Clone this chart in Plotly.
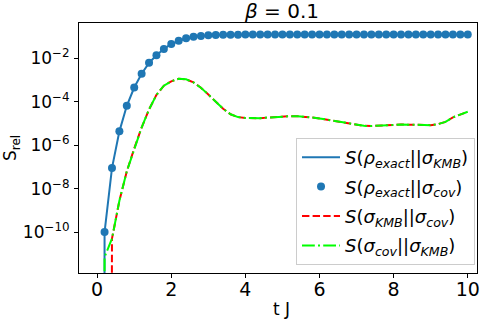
import numpy as np
import plotly.graph_objects as go

# ---- data ----
t = [round(0.2 * i, 1) for i in range(51)]

# S(rho_exact || sigma_KMB)  (line) and S(rho_exact || sigma_cov) (markers)
s_exact = [0.0, 1.0e-10, 8.9e-8, 4.4e-6, 6.6e-5, 4.6e-4, 2.0e-3, 6.3e-3, 1.41e-2, 2.75e-2,
           4.7e-2, 6.6e-2, 8.5e-2, 0.100, 0.110, 0.117, 0.121, 0.124, 0.125, 0.126,
           0.127, 0.127, 0.128, 0.128, 0.128, 0.128, 0.128, 0.128, 0.128, 0.128,
           0.128, 0.128, 0.128, 0.128, 0.128, 0.128, 0.128, 0.128, 0.128, 0.128,
           0.128, 0.128, 0.128, 0.128, 0.128, 0.128, 0.128, 0.128, 0.128, 0.128,
           0.128]

# S(sigma_cov || sigma_KMB)
s_cov_kmb = [0.0, 7.1e-12, 5.0e-11, 2.8e-9, 6.3e-8, 7.1e-7, 6.6e-6, 4.5e-5, 2.1e-4, 5.6e-4,
             8.9e-4, 1.17e-3, 1.10e-3, 7.9e-4, 4.5e-4, 2.2e-4, 1.0e-4, 4.8e-5, 2.7e-5, 2.0e-5,
             1.8e-5, 1.74e-5, 1.78e-5, 1.9e-5, 2.04e-5, 2.14e-5, 2.19e-5, 2.19e-5, 2.09e-5, 1.9e-5,
             1.74e-5, 1.51e-5, 1.35e-5, 1.15e-5, 1.0e-5, 8.7e-6, 7.9e-6, 7.8e-6, 7.9e-6, 8.3e-6,
             8.7e-6, 9.1e-6, 9.1e-6, 8.9e-6, 8.5e-6, 8.5e-6, 9.5e-6, 1.2e-5, 1.95e-5, 2.7e-5,
             3.5e-5]

# S(sigma_KMB || sigma_cov)
s_kmb_cov = [0.0, 0.0] + s_cov_kmb[2:]

ytick_vals = [1e-10, 1e-8, 1e-6, 1e-4, 1e-2]
ytick_text = ["10<sup>−10</sup>", "10<sup>−8</sup>", "10<sup>−6</sup>", "10<sup>−4</sup>", "10<sup>−2</sup>"]
xtick_vals = [0, 2, 4, 6, 8, 10]


def clip(v):
    # zeros on a log axis are drawn far below the axis (like matplotlib's clip)
    return [x if x > 0 else 1e-300 for x in v]


FONT = "DejaVu Sans"
BLUE = "#1f77b4"

fig = go.Figure()
fig.add_trace(go.Scatter(x=t, y=clip(s_exact), mode="lines", legendgroup="a",
                         line=dict(color=BLUE, width=2),
                         name="<i>S</i>(<i>ρ<sub>exact</sub></i>||<i>σ<sub>KMB</sub></i>)"))
fig.add_trace(go.Scatter(x=t[1:], y=s_exact[1:], mode="markers", legendgroup="b",
                         marker=dict(color=BLUE, size=8),
                         name="<i>S</i>(<i>ρ<sub>exact</sub></i>||<i>σ<sub>cov</sub></i>)"))
fig.add_trace(go.Scatter(x=t, y=clip(s_kmb_cov), mode="lines", legendgroup="c",
                         line=dict(color="#ff0000", width=2, dash="7.4px,3.2px"),
                         name="<i>S</i>(<i>σ<sub>KMB</sub></i>||<i>σ<sub>cov</sub></i>)"))
fig.add_trace(go.Scatter(x=t, y=clip(s_cov_kmb), mode="lines", legendgroup="d",
                         line=dict(color="#00ff00", width=2, dash="12.8px,3.2px,2px,3.2px"),
                         name="<i>S</i>(<i>σ<sub>cov</sub></i>||<i>σ<sub>KMB</sub></i>)"))

axis_common = dict(showline=True, mirror=True, linecolor="black", linewidth=1,
                   ticks="outside", ticklen=4, tickwidth=1, tickcolor="black",
                   showgrid=False, zeroline=False)

fig.update_xaxes(range=[-0.49, 10.25], tickvals=xtick_vals, ticklabelstandoff=-5,
                 tickfont=dict(family=FONT, size=19, color="black"), **axis_common)
fig.update_yaxes(type="log", range=[-11.885, -0.363], tickvals=ytick_vals,
                 ticktext=ytick_text, ticklabelstandoff=1,
                 tickfont=dict(family=FONT, size=17, color="black"), **axis_common)

fig.update_layout(
    width=490, height=319,
    margin=dict(l=79, r=10, t=23, b=46),
    plot_bgcolor="white", paper_bgcolor="white",
    font=dict(family=FONT, size=16, color="black"),
    showlegend=True,
    legend=dict(x=0.995, y=0.032, xanchor="right", yanchor="bottom",
                bgcolor="white", bordercolor="#cccccc", borderwidth=1,
                font=dict(family=FONT, size=18, color="black"),
                itemwidth=38, tracegroupgap=3),
    annotations=[
        dict(text="<i>β</i> = 0.1", xref="paper", yref="paper",
             x=0.51, y=1.0, yanchor="bottom", xanchor="center", yshift=-2,
             showarrow=False, font=dict(family=FONT, size=20, color="black")),
        dict(text="t J", xref="paper", yref="paper", x=0.51, y=0.0,
             yanchor="top", xanchor="center", yshift=-24, showarrow=False,
             font=dict(family=FONT, size=17, color="black")),
        dict(text="S<sub>rel</sub>", xref="paper", yref="paper", x=0.0, y=0.5,
             xanchor="center", yanchor="middle", xshift=-68, textangle=-90,
             showarrow=False, font=dict(family=FONT, size=17, color="black")),
    ],
)

fig.write_html("out.html", config={"displayModeBar": False},
               post_script="document.body.style.margin='0';")
